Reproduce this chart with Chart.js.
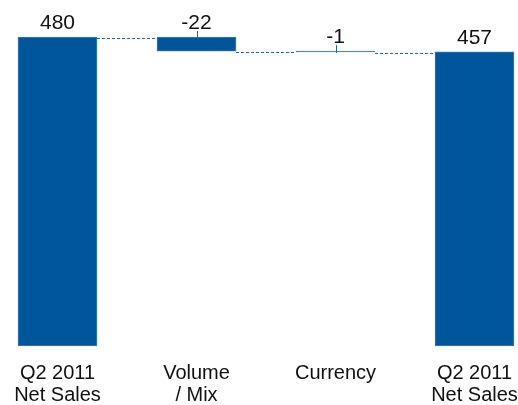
<!DOCTYPE html>
<html>
<head>
<meta charset="utf-8">
<script src="https://cdn.jsdelivr.net/npm/chart.js@4/dist/chart.umd.min.js"></script>
<style>
  html, body { margin: 0; padding: 0; background: #fff; }
  #wrap { width: 518px; height: 405px; position: relative; }
</style>
</head>
<body>
<div id="wrap"><canvas id="chart"></canvas></div>
<script>
// waterfall: Q2 2011 net sales bridge
const categories = [['Q2 2011', 'Net Sales'], ['Volume', '/ Mix'], ['Currency'], ['Q2 2011', 'Net Sales']];
const values = [480, -22, -1, 457];
const kinds = ['total', 'delta', 'delta', 'total'];

// build floating ranges from the running total
let running = 0;
const ranges = values.map((v, i) => {
  if (kinds[i] === 'total') {
    running = v;
    return [0, v];
  }
  const start = running;
  running = running + v;
  return [start, running];
});

const barColor = '#00569a';
const edgeColor = '#3f7cb8';

const waterfallExtras = {
  id: 'waterfallExtras',
  afterDatasetsDraw(chart) {
    const ctx = chart.ctx;
    const meta = chart.getDatasetMeta(0);
    const y = chart.scales.y;
    ctx.save();

    // dashed connectors between bars
    ctx.strokeStyle = '#2a64a0';
    ctx.lineWidth = 1;
    ctx.setLineDash([3, 2]);
    for (let i = 0; i < meta.data.length - 1; i++) {
      const a = meta.data[i], b = meta.data[i + 1];
      const level = Math.round(y.getPixelForValue(ranges[i][1])) + 1.5;
      ctx.beginPath();
      ctx.moveTo(a.x + a.width / 2, level);
      ctx.lineTo(b.x - b.width / 2, level);
      ctx.stroke();
    }
    ctx.setLineDash([]);

    // value labels and leader ticks
    ctx.font = '21px "Liberation Sans", Arial, sans-serif';
    ctx.fillStyle = '#111';
    ctx.textAlign = 'center';
    ctx.textBaseline = 'alphabetic';
    meta.data.forEach((bar, i) => {
      const top = y.getPixelForValue(Math.max(ranges[i][0], ranges[i][1]));
      const base = top - 8;
      ctx.fillText(String(values[i]), bar.x, base);
      if (kinds[i] === 'delta') {
        ctx.strokeStyle = '#2a64a0';
        ctx.beginPath();
        ctx.moveTo(Math.round(bar.x) + 0.5, base + 2);
        ctx.lineTo(Math.round(bar.x) + 0.5, top + 2);
        ctx.stroke();
      }
    });
    ctx.restore();
  }
};

new Chart(document.getElementById('chart'), {
  type: 'bar',
  data: {
    labels: categories,
    datasets: [{
      data: ranges,
      backgroundColor: barColor,
      borderColor: edgeColor,
      borderWidth: 1,
      borderSkipped: false,
      barThickness: 79,
      clip: false
    }]
  },
  options: {
    responsive: true,
    maintainAspectRatio: false,
    animation: false,
    layout: { padding: { top: 37, bottom: 0, left: 57.5, right: 43.5 } },
    plugins: {
      legend: { display: false },
      tooltip: { enabled: false }
    },
    scales: {
      x: {
        offset: false,
        grid: { display: false, drawTicks: false },
        border: { display: false },
        ticks: {
          padding: 16,
          color: '#111',
          maxRotation: 0,
          autoSkip: false,
          font: { family: '"Liberation Sans", Arial, sans-serif', size: 20, lineHeight: 1.12 }
        },
        afterFit(scale) {
          scale.paddingLeft = 0;
          scale.paddingRight = 0;
          scale.height = 59;
        }
      },
      y: {
        display: false,
        min: 0,
        max: 480
      }
    }
  },
  plugins: [waterfallExtras]
});
</script>
</body>
</html>
